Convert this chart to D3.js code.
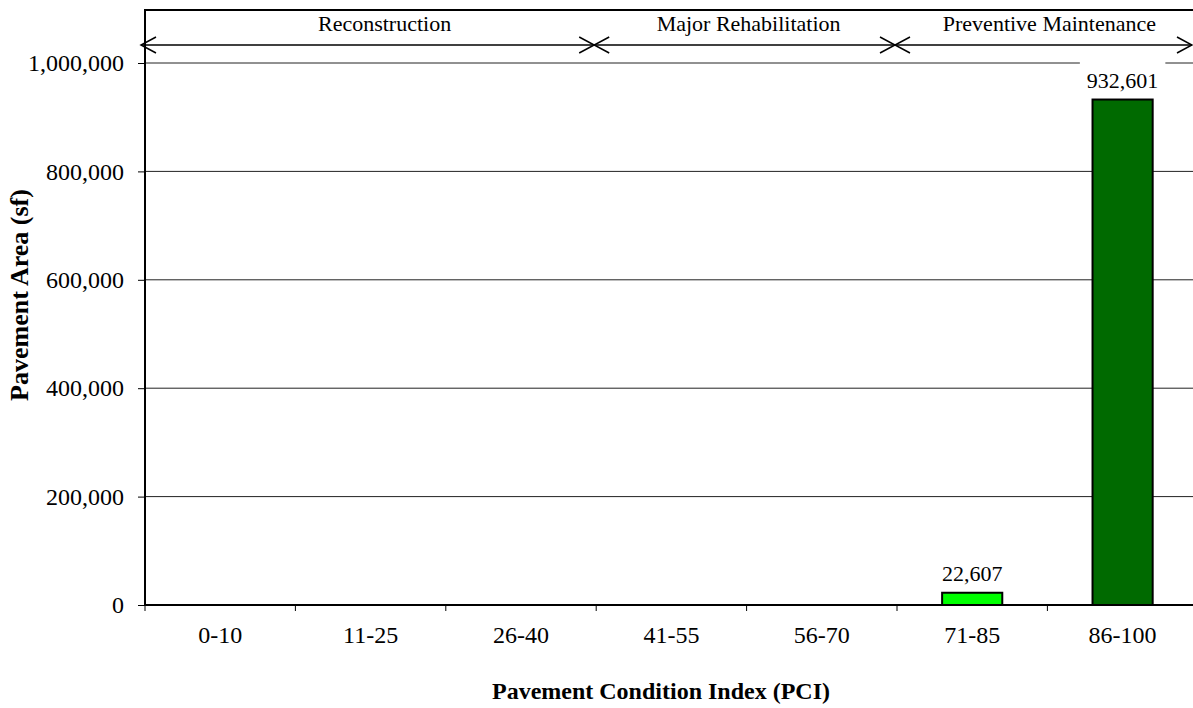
<!DOCTYPE html>
<html lang="en">
<head>
	<meta charset="UTF-8"/>
	<title>Pavement Area by PCI</title>
	<script src="https://d3js.org/d3.v7.min.js"></script>
	<style>
		body { margin: 0; background: #fff; }
		text { font-family: "Liberation Serif", "Times New Roman", serif; fill: #000; }
	</style>
</head>
<body>
<script>
	// chart data
	var categories = ["0-10", "11-25", "26-40", "41-55", "56-70", "71-85", "86-100"];
	var areas = [0, 0, 0, 0, 0, 22607, 932601];
	var barColors = ["#00ff00", "#00ff00", "#00ff00", "#00ff00", "#00ff00", "#00ff00", "#006a00"];
	var yTicks = [0, 200000, 400000, 600000, 800000, 1000000];

	// treatment bands across the top
	var phaseNames = ["Reconstruction", "Major Rehabilitation", "Preventive Maintenance"];
	var phaseFirst = ["0-10", "41-55", "71-85"];
	var phaseLast = ["26-40", "56-70", "86-100"];

	var w = 1193;
	var h = 708;
	var plotLeft = 145, plotTop = 63, plotBottom = 605;
	var step = 150.4;

	var svg = d3.select("body")
				.append("svg")
				.attr("width", w)
				.attr("height", h);

	var xScale = d3.scaleBand()
					.domain(categories)
					.range([plotLeft, plotLeft + step * categories.length])
					.padding(0);

	var yScale = d3.scaleLinear()
					.domain([0, 1000000])
					.range([plotBottom, plotTop]);

	var fmt = d3.format(",");

	//gridlines
	svg.selectAll("line.grid")
		.data(yTicks.slice(1))
		.enter()
		.append("line")
		.attr("class", "grid")
		.attr("x1", plotLeft)
		.attr("x2", w)
		.attr("y1", function(d){ return yScale(d); })
		.attr("y2", function(d){ return yScale(d); })
		.attr("stroke", "#222")
		.attr("stroke-width", 1);

	//y axis
	var yAxis = d3.axisLeft(yScale)
				.tickValues(yTicks)
				.tickFormat(fmt)
				.tickSize(7)
				.tickPadding(14);

	var gy = svg.append("g")
		.attr("transform", "translate(" + plotLeft + ",0)")
		.call(yAxis);
	gy.select(".domain").remove();
	gy.selectAll("line").attr("stroke", "#000");
	gy.selectAll("text")
		.style("font-size", "24px")
		.style("font-family", "Liberation Serif, serif")
		.attr("fill", "#000");

	//x axis: ticks sit on category boundaries
	var boundaries = categories.map(function(c){ return xScale(c); });
	svg.selectAll("line.xtick")
		.data(boundaries)
		.enter()
		.append("line")
		.attr("class", "xtick")
		.attr("x1", function(d){ return d; })
		.attr("x2", function(d){ return d; })
		.attr("y1", plotBottom)
		.attr("y2", plotBottom + 6)
		.attr("stroke", "#000");

	svg.selectAll("text.xlab")
		.data(categories)
		.enter()
		.append("text")
		.attr("class", "xlab")
		.attr("x", function(d){ return xScale(d) + xScale.bandwidth() / 2; })
		.attr("y", 643)
		.attr("text-anchor", "middle")
		.style("font-size", "24px")
		.text(function(d){ return d; });

	//bars
	var barW = xScale.bandwidth() * 0.4;
	svg.selectAll("rect.bar")
		.data(categories)
		.enter()
		.append("rect")
		.attr("class", "bar")
		.attr("x", function(d){ return xScale(d) + (xScale.bandwidth() - barW) / 2; })
		.attr("y", function(d, i){ return yScale(areas[i]); })
		.attr("width", barW)
		.attr("height", function(d, i){ return plotBottom - yScale(areas[i]); })
		.attr("fill", function(d, i){ return barColors[i]; })
		.attr("stroke", "#000")
		.attr("stroke-width", function(d, i){ return areas[i] > 0 ? 2 : 0; });

	//value labels on a white box
	categories.forEach(function(c, i){
		if (areas[i] <= 0) return;
		var g = svg.append("g");
		var t = g.append("text")
			.attr("x", xScale(c) + xScale.bandwidth() / 2)
			.attr("y", yScale(areas[i]) - 12)
			.attr("text-anchor", "middle")
			.style("font-size", "22px")
			.text(fmt(areas[i]));
		var bb = t.node().getBBox();
		g.insert("rect", "text")
			.attr("x", bb.x - 7)
			.attr("y", bb.y - 6)
			.attr("width", bb.width + 14)
			.attr("height", bb.height + 10)
			.attr("fill", "#fff");
	});

	//axis lines and top frame
	svg.append("line")
		.attr("x1", plotLeft).attr("x2", plotLeft)
		.attr("y1", 10).attr("y2", plotBottom + 1)
		.attr("stroke", "#000").attr("stroke-width", 2);
	svg.append("line")
		.attr("x1", plotLeft).attr("x2", w)
		.attr("y1", plotBottom).attr("y2", plotBottom)
		.attr("stroke", "#000").attr("stroke-width", 2);
	svg.append("line")
		.attr("x1", plotLeft - 1).attr("x2", w)
		.attr("y1", 10).attr("y2", 10)
		.attr("stroke", "#000").attr("stroke-width", 2);

	//phase arrows
	var arrowY = 45;
	phaseNames.forEach(function(name, i){
		var x0 = xScale(phaseFirst[i]);
		var x1 = xScale(phaseLast[i]) + xScale.bandwidth();
		var tipL = i === 0 ? x0 - 4 : x0 - 2;
		var tipR = Math.min(x1 - 2, w - 1);
		svg.append("line")
			.attr("x1", tipL).attr("x2", tipR)
			.attr("y1", arrowY).attr("y2", arrowY)
			.attr("stroke", "#000").attr("stroke-width", 1.5);
		svg.append("path")
			.attr("d", "M" + (tipL + 15) + "," + (arrowY - 8) + "L" + tipL + "," + arrowY + "L" + (tipL + 15) + "," + (arrowY + 8))
			.attr("fill", "none").attr("stroke", "#000").attr("stroke-width", 1.5);
		svg.append("path")
			.attr("d", "M" + (tipR - 15) + "," + (arrowY - 8) + "L" + tipR + "," + arrowY + "L" + (tipR - 15) + "," + (arrowY + 8))
			.attr("fill", "none").attr("stroke", "#000").attr("stroke-width", 1.5);
		svg.append("text")
			.attr("x", (x0 + x1) / 2 + (i === 0 ? 14 : 2))
			.attr("y", 31)
			.attr("text-anchor", "middle")
			.style("font-size", "22px")
			.text(name);
	});

	// X axis label, centred on the plot area
	svg.append("text")
		.attr("text-anchor", "middle")
		.attr("x", 661)
		.attr("y", 699)
		.style("font-size", "24px")
		.style("font-weight", "bold")
		.text("Pavement Condition Index (PCI)");

	// Y axis label
	svg.append("text")
		.attr("text-anchor", "middle")
		.attr("transform", "translate(28,295) rotate(-90)")
		.style("font-size", "26px")
		.style("font-weight", "bold")
		.text("Pavement Area (sf)");
</script>
</body>
</html>
